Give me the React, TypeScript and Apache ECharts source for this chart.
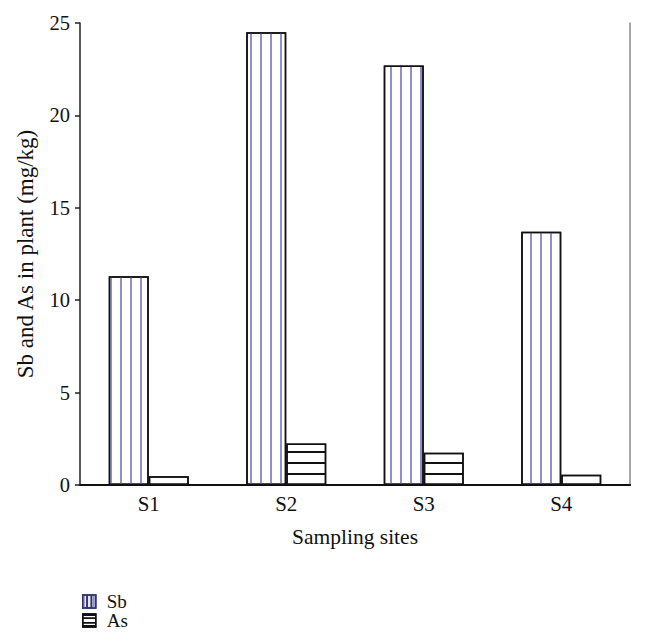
import React, { useEffect, useRef } from "react";
import * as echarts from "echarts";

const categories = ["S1", "S2", "S3", "S4"];
const sbValues = [11.3, 24.5, 22.7, 13.7];
const asValues = [0.47, 2.25, 1.75, 0.55];
const yTicks = [0, 5, 10, 15, 20, 25];

const FONT = "'Liberation Serif', 'DejaVu Serif', serif";

const SB_ICON = "path://M0,0H12V12H0ZM4,0V12M8,0V12";
const AS_ICON = "path://M0,0H12V12H0ZM0,4H12M0,8H12";

export default function App() {
  const ref = useRef<HTMLDivElement>(null);
  useEffect(() => {
    if (!ref.current) return;
    const chart = echarts.init(ref.current, null, { renderer: "svg" });
    const option: any = {
      animation: false,
      backgroundColor: "#fff",
      textStyle: { fontFamily: FONT, color: "#111" },
      grid: { left: 80, right: 15, top: 23, bottom: 156, containLabel: false },
      legend: {
        orient: "vertical",
        left: 82,
        top: 592,
        height: 49,
        itemWidth: 13,
        itemHeight: 13,
        itemGap: 0,
        padding: 0,
        textStyle: {
          fontFamily: FONT,
          fontSize: 19,
          color: "#111",
          lineHeight: 18,
          padding: [0, 0, 0, 6],
        },
        data: [
          {
            name: "Sb",
            icon: SB_ICON,
            itemStyle: { color: "#e6e6f6", borderColor: "#333366", borderWidth: 1.5 },
          },
          {
            name: "As",
            icon: AS_ICON,
            itemStyle: { color: "#fff", borderColor: "#111", borderWidth: 1.5 },
          },
        ],
      },
      xAxis: [
        {
          type: "category",
          data: categories,
          position: "bottom",
          axisLine: { lineStyle: { color: "#222", width: 1.5 } },
          axisTick: { inside: true, length: 6, lineStyle: { color: "#222", width: 1.5 } },
          axisLabel: { fontFamily: FONT, fontSize: 21, color: "#111", margin: 8 },
          name: "Sampling sites",
          nameLocation: "middle",
          nameGap: 41,
          nameTextStyle: { fontFamily: FONT, fontSize: 21.5, color: "#111" },
        },
        {
          type: "category",
          data: categories,
          position: "top",
          axisLine: { lineStyle: { color: "#111", width: 2 } },
          axisTick: { show: false },
          axisLabel: { show: false },
        },
      ],
      yAxis: [
        {
          type: "value",
          min: 0,
          max: 25,
          interval: 5,
          position: "left",
          splitLine: { show: false },
          axisLine: { show: true, lineStyle: { color: "#222", width: 1.5 } },
          axisTick: { show: true, length: 5, lineStyle: { color: "#222", width: 1.5 } },
          axisLabel: {
            fontFamily: FONT,
            fontSize: 20.5,
            color: "#111",
            margin: 10,
            formatter: (v: number) => (yTicks.includes(v) ? String(v) : ""),
          },
          name: "Sb and As in plant (mg/kg)",
          nameLocation: "middle",
          nameGap: 43,
          nameTextStyle: { fontFamily: FONT, fontSize: 23, color: "#111" },
        },
        {
          type: "value",
          min: 0,
          max: 25,
          interval: 5,
          position: "right",
          splitLine: { show: false },
          axisLine: { show: true, lineStyle: { color: "#888", width: 1.5 } },
          axisTick: { show: false },
          axisLabel: { show: false },
        },
      ],
      series: [
        {
          name: "Sb",
          type: "bar",
          data: sbValues,
          barWidth: 40,
          barGap: "0%",
          itemStyle: {
            color: "#fff",
            borderColor: "#111",
            borderWidth: 1.5,
            decal: {
              symbol: "rect",
              symbolSize: 1,
              color: "#8f8fcc",
              dashArrayX: [2, 8],
              dashArrayY: [10, 0],
              rotation: 0,
            },
          },
        },
        {
          name: "As",
          type: "bar",
          data: asValues,
          barWidth: 40,
          barGap: "0%",
          itemStyle: {
            color: "#fff",
            borderColor: "#111",
            borderWidth: 1.5,
            decal: {
              symbol: "rect",
              symbolSize: 1,
              color: "#111",
              dashArrayX: [10, 0],
              dashArrayY: [2, 8.5],
              rotation: 0,
            },
          },
        },
      ],
    };
    chart.setOption(option);
    return () => chart.dispose();
  }, []);
  return (
    <div
      ref={ref}
      style={{ position: "fixed", left: 0, top: 0, width: 645, height: 641 }}
    />
  );
}
